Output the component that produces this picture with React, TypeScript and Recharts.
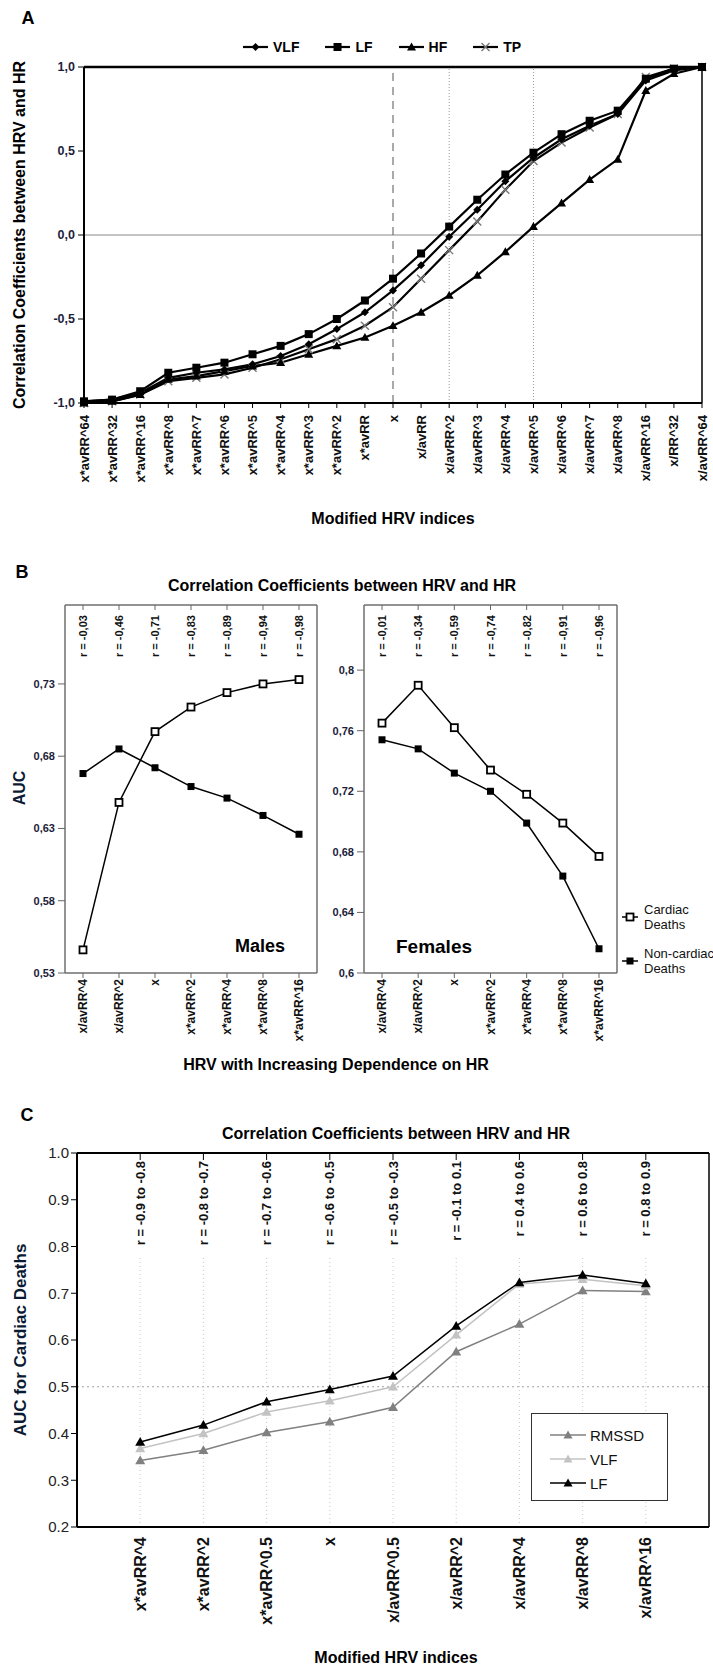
import React from "react";
import { LineChart, Line, XAxis, YAxis, ReferenceLine, Legend } from "recharts";

const SANS = "'Liberation Sans', Arial, Helvetica, sans-serif";

// ---------- panel A ----------
const A_INDICES = [
  "x*avRR^64", "x*avRR^32", "x*avRR^16", "x*avRR^8", "x*avRR^7", "x*avRR^6", "x*avRR^5",
  "x*avRR^4", "x*avRR^3", "x*avRR^2", "x*avRR", "x", "x/avRR", "x/avRR^2", "x/avRR^3",
  "x/avRR^4", "x/avRR^5", "x/avRR^6", "x/avRR^7", "x/avRR^8", "x/avRR^16", "x/RR^32", "x/avRR^64",
];
const A_VLF = [-0.99, -0.98, -0.94, -0.85, -0.82, -0.8, -0.77, -0.72, -0.65, -0.56, -0.46, -0.33, -0.18, -0.01, 0.15, 0.32, 0.46, 0.57, 0.65, 0.72, 0.92, 0.98, 1.0];
const A_LF = [-0.99, -0.98, -0.93, -0.82, -0.79, -0.76, -0.71, -0.66, -0.59, -0.5, -0.39, -0.26, -0.11, 0.05, 0.21, 0.36, 0.49, 0.6, 0.68, 0.74, 0.93, 0.99, 1.0];
const A_HF = [-1.0, -0.99, -0.95, -0.86, -0.84, -0.81, -0.78, -0.76, -0.71, -0.66, -0.61, -0.54, -0.46, -0.36, -0.24, -0.1, 0.05, 0.19, 0.33, 0.45, 0.86, 0.96, 1.0];
const A_TP = [-1.0, -0.99, -0.95, -0.87, -0.85, -0.83, -0.79, -0.74, -0.68, -0.62, -0.54, -0.43, -0.26, -0.09, 0.08, 0.27, 0.44, 0.55, 0.64, 0.72, 0.94, 0.99, 1.0];
const A_TICKS = [-1, -0.5, 0, 0.5, 1];

// ---------- panel B ----------
const B_INDICES = ["x/avRR^4", "x/avRR^2", "x", "x*avRR^2", "x*avRR^4", "x*avRR^8", "x*avRR^16"];
const B_MALE_R = ["r = -0,03", "r = -0,46", "r = -0,71", "r = -0,83", "r = -0,89", "r = -0,94", "r = -0,98"];
const B_FEMALE_R = ["r = -0,01", "r = -0,34", "r = -0,59", "r = -0,74", "r = -0,82", "r = -0,91", "r = -0,96"];
const B_MALE_CARDIAC = [0.546, 0.648, 0.697, 0.714, 0.724, 0.73, 0.733];
const B_MALE_NONCARDIAC = [0.668, 0.685, 0.672, 0.659, 0.651, 0.639, 0.626];
const B_FEMALE_CARDIAC = [0.765, 0.79, 0.762, 0.734, 0.718, 0.699, 0.677];
const B_FEMALE_NONCARDIAC = [0.754, 0.748, 0.732, 0.72, 0.699, 0.664, 0.616];
const B_MALE_TICKS = [0.53, 0.58, 0.63, 0.68, 0.73];
const B_FEMALE_TICKS = [0.6, 0.64, 0.68, 0.72, 0.76, 0.8];

// ---------- panel C ----------
const C_INDICES = ["x*avRR^4", "x*avRR^2", "x*avRR^0.5", "x", "x/avRR^0.5", "x/avRR^2", "x/avRR^4", "x/avRR^8", "x/avRR^16"];
const C_R = ["r = -0.9 to -0.8", "r = -0.8 to -0.7", "r = -0.7 to -0.6", "r = -0.6 to -0.5", "r = -0.5 to -0.3", "r = -0.1 to 0.1", "r = 0.4 to 0.6", "r = 0.6 to 0.8", "r = 0.8 to 0.9"];
const C_RMSSD = [0.342, 0.364, 0.402, 0.425, 0.456, 0.575, 0.634, 0.706, 0.704];
const C_VLF = [0.368, 0.4, 0.446, 0.47, 0.5, 0.611, 0.72, 0.73, 0.716];
const C_LF = [0.382, 0.418, 0.468, 0.494, 0.523, 0.63, 0.723, 0.739, 0.721];
const C_TICKS = [0.2, 0.3, 0.4, 0.5, 0.6, 0.7, 0.8, 0.9, 1.0];

const aData = A_INDICES.map((label, i) => ({ label, VLF: A_VLF[i], LF: A_LF[i], HF: A_HF[i], TP: A_TP[i] }));
const maleData = B_INDICES.map((label, i) => ({ label, r: B_MALE_R[i], cardiac: B_MALE_CARDIAC[i], noncardiac: B_MALE_NONCARDIAC[i] }));
const femaleData = B_INDICES.map((label, i) => ({ label, r: B_FEMALE_R[i], cardiac: B_FEMALE_CARDIAC[i], noncardiac: B_FEMALE_NONCARDIAC[i] }));
const cData = C_INDICES.map((label, i) => ({ label, r: C_R[i], RMSSD: C_RMSSD[i], VLF: C_VLF[i], LF: C_LF[i] }));

type Kind = "diamond" | "square" | "openSquare" | "triangle" | "cross";

function Marker({ kind, cx, cy, color, size }: { kind: Kind; cx: number; cy: number; color: string; size: number }) {
  const h = size / 2;
  if (kind === "diamond") return <path d={`M${cx},${cy - h}L${cx + h},${cy}L${cx},${cy + h}L${cx - h},${cy}Z`} fill={color} />;
  if (kind === "square") return <rect x={cx - h} y={cy - h} width={size} height={size} fill={color} />;
  if (kind === "openSquare")
    return <rect x={cx - h} y={cy - h} width={size} height={size} fill="#fff" stroke={color} strokeWidth={1.8} />;
  if (kind === "triangle") return <path d={`M${cx},${cy - h}L${cx + h},${cy + h * 0.75}L${cx - h},${cy + h * 0.75}Z`} fill={color} />;
  return (
    <path d={`M${cx - h},${cy - h}L${cx + h},${cy + h}M${cx - h},${cy + h}L${cx + h},${cy - h}`} stroke={color} strokeWidth={1.4} />
  );
}

const dotOf = (kind: Kind, color: string, size: number) => (props: any) => {
  const { cx, cy, index } = props;
  if (cx == null || cy == null) return <g key={`n-${index}`} />;
  return (
    <g key={`${kind}-${index}`}>
      <Marker kind={kind} cx={cx} cy={cy} color={color} size={size} />
    </g>
  );
};

const commaFmt = (v: number) => String(v).replace(".", ",");
const commaFixed = (v: number) => v.toFixed(1).replace(".", ",");

// rotated category label, hanging below the point (anchor end) or rising above it (anchor start)
const rotatedTick =
  (fontSize: number, weight: string, anchor: "start" | "end", fixedY?: number, tickFrom?: number, tickLen = 0, color = "#111") =>
  (props: any) => {
    const { x, y, payload } = props;
    const ty = fixedY ?? y;
    return (
      <g>
        {tickFrom != null && <line x1={x} x2={x} y1={tickFrom} y2={tickFrom + tickLen} stroke={color} strokeWidth={1} />}
        <text
          x={x}
          y={ty}
          transform={`rotate(-90 ${x} ${ty})`}
          textAnchor={anchor}
          dominantBaseline="central"
          fontFamily={SANS}
          fontSize={fontSize}
          fontWeight={weight}
          fill="#111"
        >
          {payload.value}
        </text>
      </g>
    );
  };

const A_SERIES: { key: string; kind: Kind; color: string; size: number }[] = [
  { key: "VLF", kind: "diamond", color: "#000", size: 8 },
  { key: "LF", kind: "square", color: "#000", size: 8 },
  { key: "HF", kind: "triangle", color: "#000", size: 9 },
  { key: "TP", kind: "cross", color: "#777", size: 8 },
];
const A_DRAW_ORDER = ["TP", "HF", "VLF", "LF"];

const C_SERIES: { key: string; color: string }[] = [
  { key: "RMSSD", color: "#808080" },
  { key: "VLF", color: "#c3c3c3" },
  { key: "LF", color: "#000" },
];

function ALegend() {
  return (
    <div style={{ display: "flex", alignItems: "center", fontFamily: SANS, fontWeight: "bold", fontSize: 14, color: "#000" }}>
      {A_SERIES.map((s) => (
        <div key={s.key} style={{ display: "flex", alignItems: "center", marginRight: 26 }}>
          <svg width={25} height={12}>
            <line x1={0} x2={25} y1={6} y2={6} stroke="#000" strokeWidth={2.2} />
            <Marker kind={s.kind} cx={12.5} cy={6} color={s.color} size={s.size} />
          </svg>
          <span style={{ marginLeft: 5 }}>{s.key}</span>
        </div>
      ))}
    </div>
  );
}

const B_LEGEND = [
  { name: "Cardiac Deaths", kind: "openSquare" as Kind },
  { name: "Non-cardiac Deaths", kind: "square" as Kind },
];

function BLegend() {
  return (
    <div style={{ fontFamily: SANS, fontSize: 13, color: "#111", lineHeight: "15px" }}>
      {B_LEGEND.map((s) => (
        <div key={s.name} style={{ display: "flex", alignItems: "center", height: 30, marginBottom: 14 }}>
          <svg width={16} height={10}>
            <line x1={0} x2={16} y1={5} y2={5} stroke="#000" strokeWidth={1.5} />
            <Marker kind={s.kind} cx={8} cy={5} color="#000" size={7} />
          </svg>
          <div style={{ marginLeft: 6, width: 75 }}>{s.name}</div>
        </div>
      ))}
    </div>
  );
}

function CLegend() {
  return (
    <div
      style={{
        width: 137,
        height: 88,
        boxSizing: "border-box",
        border: "1px solid #333",
        background: "#fff",
        fontFamily: SANS,
        fontSize: 15,
        color: "#111",
        paddingTop: 9,
      }}
    >
      {C_SERIES.map((s) => (
        <div key={s.key} style={{ display: "flex", alignItems: "center", height: 24, marginLeft: 18 }}>
          <svg width={36} height={12}>
            <line x1={0} x2={36} y1={6} y2={6} stroke={s.color} strokeWidth={1.5} />
            <Marker kind="triangle" cx={18} cy={6} color={s.color} size={9} />
          </svg>
          <span style={{ marginLeft: 4 }}>{s.key}</span>
        </div>
      ))}
    </div>
  );
}

function Caption({ x, y, text, size, rotate = false, weight = "bold", color = "#000" }: any) {
  return (
    <div
      style={{
        position: "absolute",
        left: x,
        top: y,
        transform: `translate(-50%, -50%)${rotate ? " rotate(-90deg)" : ""}`,
        whiteSpace: "nowrap",
        fontFamily: SANS,
        fontSize: size,
        fontWeight: weight,
        color,
        lineHeight: 1,
      }}
    >
      {text}
    </div>
  );
}

function BPanel({ data, ticks, domain, width, yWidth, right, left, children }: any) {
  return (
    <div style={{ position: "absolute", left, top: 560 }}>
      <LineChart width={width} height={490} data={data} margin={{ top: 44, right, bottom: 0, left: 0 }}>
        <XAxis
          dataKey="label"
          padding={{ left: 18, right: 18 }}
          interval={0}
          height={77}
          tickSize={5}
          tickMargin={1}
          tickLine={{ stroke: "#666" }}
          axisLine={{ stroke: "#6f6f6f", strokeWidth: 1.5 }}
          tick={rotatedTick(12, "bold", "end")}
        />
        <XAxis
          xAxisId="top"
          orientation="top"
          dataKey="r"
          padding={{ left: 18, right: 18 }}
          interval={0}
          height={1}
          tickLine={false}
          axisLine={{ stroke: "#6f6f6f", strokeWidth: 1.5 }}
          tick={rotatedTick(11, "bold", "start", 97, 45, 5, "#666")}
        />
        <YAxis
          type="number"
          domain={domain}
          ticks={ticks}
          width={yWidth}
          tickFormatter={commaFmt}
          tickSize={7}
          tickMargin={3}
          tickLine={{ stroke: "#666" }}
          axisLine={{ stroke: "#6f6f6f", strokeWidth: 1.5 }}
          tick={{ fontFamily: SANS, fontSize: 11, fontWeight: "bold", fill: "#1c1c3a" }}
        />
        <YAxis yAxisId="right" orientation="right" width={1} tick={false} tickLine={false} axisLine={{ stroke: "#6f6f6f", strokeWidth: 1.5 }} />
        <Line dataKey="noncardiac" name="Non-cardiac Deaths" stroke="#000" strokeWidth={1.5} isAnimationActive={false} dot={dotOf("square", "#000", 7)} />
        <Line dataKey="cardiac" name="Cardiac Deaths" stroke="#000" strokeWidth={1.5} isAnimationActive={false} dot={dotOf("openSquare", "#000", 7)} />
        {children}
      </LineChart>
    </div>
  );
}

export default function App() {
  return (
    <div style={{ position: "absolute", left: 0, top: 0, width: 713, height: 1671, background: "#fff", overflow: "hidden" }}>
      {/* Panel A */}
      <div style={{ position: "absolute", left: 0, top: 0 }}>
        <LineChart width={713} height={520} data={aData} margin={{ top: 67, right: 10, bottom: 0, left: 0 }}>
          <XAxis
            dataKey="label"
            interval={0}
            height={117}
            tickSize={5}
            tickMargin={7}
            tickLine={{ stroke: "#000" }}
            axisLine={{ stroke: "#000", strokeWidth: 2 }}
            tick={rotatedTick(13, "bold", "end")}
          />
          <YAxis
            type="number"
            domain={[-1, 1]}
            ticks={A_TICKS}
            width={84}
            tickFormatter={commaFixed}
            tickSize={6}
            tickMargin={3}
            tickLine={{ stroke: "#000" }}
            axisLine={{ stroke: "#000", strokeWidth: 2 }}
            tick={{ fontFamily: SANS, fontSize: 12.5, fontWeight: "bold", fill: "#1e1e3c" }}
          />
          <YAxis yAxisId="right" orientation="right" width={1} domain={[-1, 1]} ticks={A_TICKS} tick={false} tickSize={5} tickLine={{ stroke: "#000" }} axisLine={{ stroke: "#000", strokeWidth: 1.5 }} />
          <ReferenceLine y={0} stroke="#8a8a8a" strokeWidth={1.2} />
          <ReferenceLine y={1} stroke="#000" strokeWidth={2.5} />
          <ReferenceLine x="x" stroke="#555" strokeDasharray="8 6" />
          <ReferenceLine x="x/avRR^2" stroke="#999" strokeDasharray="1 2" />
          <ReferenceLine x="x/avRR^5" stroke="#999" strokeDasharray="1 2" />
          {A_DRAW_ORDER.map((key) => {
            const s = A_SERIES.find((e) => e.key === key)!;
            return (
              <Line
                key={key}
                dataKey={key}
                name={key}
                stroke="#000"
                strokeWidth={2.2}
                isAnimationActive={false}
                dot={dotOf(s.kind, s.color, s.size)}
              />
            );
          })}
          <Legend layout="horizontal" verticalAlign="middle" align="center" wrapperStyle={{ left: 243, top: 39, width: 320 }} content={() => <ALegend />} />
        </LineChart>
      </div>

      {/* Panel B */}
      <BPanel data={maleData} ticks={B_MALE_TICKS} domain={[0.53, 0.7846]} width={340} yWidth={65} right={22} left={0} />
      <BPanel data={femaleData} ticks={B_FEMALE_TICKS} domain={[0.6, 0.843]} width={403} yWidth={54} right={95} left={310}>
        <Legend layout="horizontal" verticalAlign="middle" align="center" wrapperStyle={{ left: 312, top: 342, width: 100 }} content={() => <BLegend />} />
      </BPanel>

      {/* Panel C */}
      <div style={{ position: "absolute", left: 0, top: 1100 }}>
        <LineChart width={713} height={571} data={cData} margin={{ top: 52, right: 0, bottom: 0, left: 0 }}>
          <XAxis
            dataKey="label"
            padding={{ left: 63.2, right: 63.2 }}
            interval={0}
            height={144}
            tickLine={false}
            tickSize={6}
            tickMargin={4}
            axisLine={{ stroke: "#000", strokeWidth: 2 }}
            tick={rotatedTick(16, "bold", "end")}
          />
          <XAxis
            xAxisId="top"
            orientation="top"
            dataKey="r"
            padding={{ left: 63.2, right: 63.2 }}
            interval={0}
            height={1}
            tickLine={false}
            axisLine={{ stroke: "#000", strokeWidth: 2 }}
            tick={rotatedTick(13, "bold", "end", 61, 53, 7, "#000")}
          />
          <YAxis
            type="number"
            domain={[0.2, 1]}
            ticks={C_TICKS}
            width={77}
            tickFormatter={(v: number) => v.toFixed(1)}
            tickSize={6}
            tickMargin={2}
            tickLine={{ stroke: "#000" }}
            axisLine={{ stroke: "#000", strokeWidth: 2 }}
            tick={{ fontFamily: SANS, fontSize: 15, fill: "#222" }}
          />
          <YAxis yAxisId="right" orientation="right" width={4} domain={[0.2, 1]} ticks={C_TICKS} tick={false} tickSize={4} tickLine={{ stroke: "#000" }} axisLine={{ stroke: "#000", strokeWidth: 1.5 }} />
          {C_INDICES.map((lab) => (
            <ReferenceLine key={lab} segment={[{ x: lab, y: 0.2 }, { x: lab, y: 0.78 }]} stroke="#c8c8c8" strokeDasharray="1 3" />
          ))}
          <ReferenceLine y={0.5} stroke="#a0a0a0" strokeDasharray="2 3" />
          {C_SERIES.map((s) => (
            <Line
              key={s.key}
              dataKey={s.key}
              name={s.key}
              stroke={s.color}
              strokeWidth={1.5}
              isAnimationActive={false}
              dot={dotOf("triangle", s.color, 10)}
            />
          ))}
          <Legend layout="horizontal" verticalAlign="middle" align="center" wrapperStyle={{ left: 531, top: 313, width: 137 }} content={() => <CLegend />} />
        </LineChart>
      </div>

      {/* captions */}
      <Caption x={28} y={18} text="A" size={18} />
      <Caption x={20} y={235} text="Correlation Coefficients between HRV and HR" size={16} rotate />
      <Caption x={393} y={519} text="Modified HRV indices" size={16} />

      <Caption x={22} y={572} text="B" size={18} />
      <Caption x={342} y={586} text="Correlation Coefficients between HRV and HR" size={16} />
      <Caption x={20} y={788} text="AUC" size={16} rotate color="#0d1a33" />
      <Caption x={260} y={946} text="Males" size={18} />
      <Caption x={434} y={946} text="Females" size={19} />
      <Caption x={336} y={1065} text="HRV with Increasing Dependence on HR" size={16} />

      <Caption x={27} y={1115} text="C" size={18} />
      <Caption x={396} y={1134} text="Correlation Coefficients between HRV and HR" size={16} />
      <Caption x={20} y={1340} text="AUC for Cardiac Deaths" size={17} rotate color="#0b1a33" />
      <Caption x={396} y={1658} text="Modified HRV indices" size={16} />
    </div>
  );
}
